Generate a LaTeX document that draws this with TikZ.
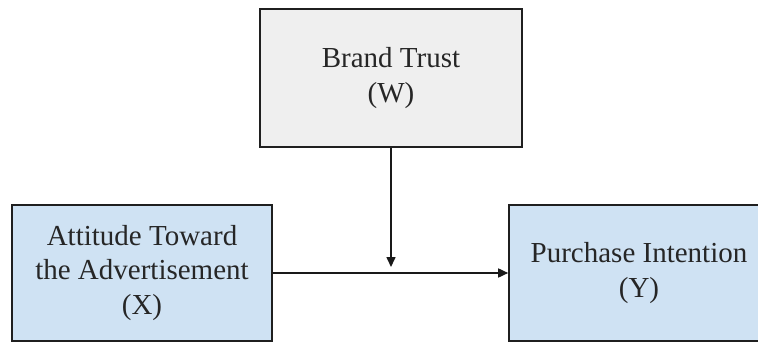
\documentclass[tikz,border=0pt]{standalone}
\usepackage{fontspec}
\setmainfont{Liberation Serif}
\usetikzlibrary{arrows.meta}
\definecolor{boxblue}{HTML}{CFE2F3}
\definecolor{boxgray}{HTML}{EFEFEF}
\definecolor{edge}{HTML}{1F1F1F}
\begin{document}
\begin{tikzpicture}[x=1pt,y=-1pt,
  varbox/.style={draw=edge, line width=1.6pt, rectangle, align=center, inner sep=0pt,
    text=black!85,
    font=\fontsize{29}{34.5}\selectfont},
  conn/.style={line width=1.6pt, draw=black!90, -{Triangle[length=10pt,width=9pt]}}]
\useasboundingbox (0,0) rectangle (758,342);
\clip (0,0) rectangle (758,342);
\fill[white] (0,0) rectangle (758,342);
\node[varbox, fill=boxgray, minimum width=262pt, minimum height=138pt] (W) at (391,78) {Brand Trust\\(W)};
\node[varbox, fill=boxblue, minimum width=260pt, minimum height=136pt] (X) at (142,273) {Attitude Toward\\the Advertisement\\(X)};
\node[varbox, fill=boxblue, minimum width=260pt, minimum height=136pt] (Y) at (639,273) {Purchase Intention\\(Y)};
\coordinate (tip) at ([yshift=6pt]W.south |- X.east);
\draw[conn] (X.east) -- (Y.west);
\draw[conn] (W.south) -- (tip);
\end{tikzpicture}
\end{document}
